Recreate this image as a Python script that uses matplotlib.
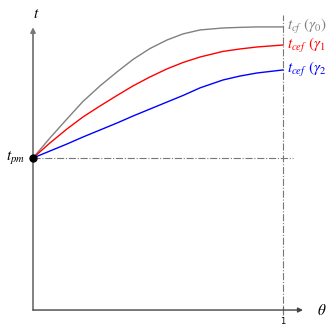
import numpy as np
import matplotlib.pyplot as plt

plt.rcParams['mathtext.fontset'] = 'stix'

# (theta in [0, 1], t relative to t_pm = 1)
theta = [0.0, 0.068, 0.136, 0.2, 0.268, 0.336, 0.4, 0.468,
         0.536, 0.6, 0.668, 0.76, 0.828, 0.896, 1.0]
t_cf_g0 = [1.0, 1.132, 1.257, 1.372, 1.474, 1.566, 1.648, 1.720,
           1.776, 1.816, 1.842, 1.855, 1.859, 1.862, 1.862]
t_cef_g1 = [1.0, 1.099, 1.191, 1.270, 1.342, 1.411, 1.474, 1.533,
            1.586, 1.628, 1.664, 1.701, 1.717, 1.730, 1.743]
t_cef_g2 = [1.0, 1.046, 1.092, 1.138, 1.184, 1.230, 1.276, 1.322,
            1.368, 1.411, 1.461, 1.513, 1.539, 1.559, 1.579]
t_pm = 1.0
series = [(t_cf_g0, 'grey', r'$t_{cf}\ (\gamma_0)$'),
          (t_cef_g1, 'red', r'$t_{cef}\ (\gamma_1$'),
          (t_cef_g2, 'blue', r'$t_{cef}\ (\gamma_2$')]

fig = plt.figure(figsize=(3.28, 3.26), dpi=100)
ax = fig.add_axes([0, 0, 1, 1])
ax.set_xlim(-0.132, 1.18)
ax.set_ylim(-0.105, 2.039)
ax.axis('off')

# axes with arrows
ax.annotate('', xy=(0, 1.86), xytext=(0, 0),
            arrowprops=dict(arrowstyle='-|>', color='#777777', lw=1.3,
                            mutation_scale=7, shrinkA=0, shrinkB=0))
ax.annotate('', xy=(1.08, 0), xytext=(0, 0),
            arrowprops=dict(arrowstyle='-|>', color='#444444', lw=1.0,
                            mutation_scale=7, shrinkA=0, shrinkB=0))
ax.text(0.012, 1.95, r'$t$', fontsize=11, ha='center', va='center')
ax.text(1.155, 0.0, r'$\theta$', fontsize=11, ha='center', va='center')
ax.plot([1, 1], [-0.02, 0.02], color='#444444', lw=0.8)
ax.text(1.0, -0.075, '1', fontsize=6, ha='center', va='center')

# reference lines
ax.plot([0, 1.04], [t_pm, t_pm], color='#777777', lw=0.8, ls='-.')
ax.plot([1, 1], [-0.03, 1.94], color='#777777', lw=0.8, ls='-.')

for vals, c, lab in series:
    ax.plot(theta, vals, color=c, lw=1.0)
    ax.text(1.015, vals[-1], lab, color=c, fontsize=11, ha='left', va='center')

ax.plot([0], [t_pm], 'o', color='black', ms=5, zorder=5)
ax.text(-0.03, t_pm, r'$t_{pm}$', fontsize=11, ha='right', va='center')

fig.savefig('out.png', dpi=100)
